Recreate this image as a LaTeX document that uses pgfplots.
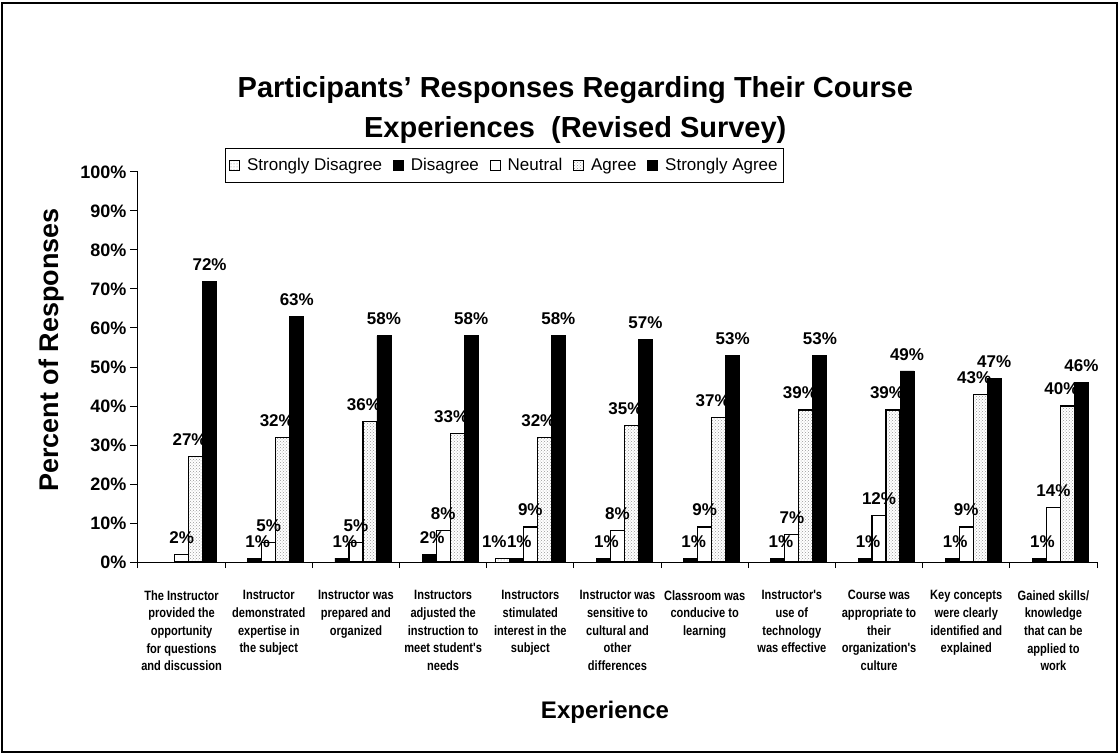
\documentclass[border=0pt]{standalone}
\usepackage{pgfplots}
\pgfplotsset{compat=1.18}
\usepackage{pgfplotstable}
\usetikzlibrary{patterns}
\usepackage{fontspec}
\setmainfont{Liberation Sans}
\newfontfamily\narrowfont[FakeStretch=0.82]{Liberation Sans}

\pgfplotstableread{
x SD D N A SA
0 0 0 2 27 72
1 0 1 5 32 63
2 0 1 5 36 58
3 0 2 8 33 58
4 1 1 9 32 58
5 0 1 8 35 57
6 0 1 9 37 53
7 0 1 7 39 53
8 0 1 12 39 49
9 0 1 9 43 47
10 0 1 14 40 46
}\datatable

\pgfplotsset{
  /pgf/number format/assume math mode=true,
  sq/.style={legend image code/.code={\draw[##1,line width=0.7pt] (0pt,-5pt) rectangle (10pt,5pt);}},
}

\begin{document}
\begin{tikzpicture}[x=1pt,y=1pt]
\path[use as bounding box] (-138,-193) rectangle (981,562);
\draw[line width=1.2pt] (-136,-190) rectangle (979,559);
\begin{axis}[
  at={(0,0)}, anchor=south west,
  scale only axis, width=959pt, height=390pt,
  ymin=0, ymax=100, xmin=-0.5, xmax=10.5,
  ybar=0pt, bar width=14pt,
  axis x line*=bottom, axis y line*=left,
  axis line style={line width=1pt},
  tick align=outside,
  ytick={0,10,...,100},
  yticklabel={\pgfmathprintnumber{\tick}\%},
  yticklabel style={font=\bfseries\fontsize{18}{18}\selectfont},
  major tick length=8pt, minor tick length=6pt,
  tick style={line width=1pt, black},
  xtick={0,...,10},
  major x tick style={draw=none},
  minor xtick={-0.5,0.5,...,10.5},
  xticklabels={
    {The Instructor\\provided the\\opportunity\\for questions\\and discussion},
    {Instructor\\demonstrated\\expertise in\\the subject},
    {Instructor was\\prepared and\\organized},
    {Instructors\\adjusted the\\instruction to\\meet student's\\needs},
    {Instructors\\stimulated\\interest in the\\subject},
    {Instructor was\\sensitive to\\cultural and\\other\\differences},
    {Classroom was\\conducive to\\learning},
    {Instructor's\\use of\\technology\\was effective},
    {Course was\\appropriate to\\their\\organization's\\culture},
    {Key concepts\\were clearly\\identified and\\explained},
    {Gained skills/\\knowledge\\that can be\\applied to\\work}
  },
  xticklabel style={font=\narrowfont\bfseries\fontsize{13.5}{17.6}\selectfont, align=center, anchor=north, yshift=-17pt},
  xlabel={Experience},
  xlabel style={at={(axis description cs:0.487,0)}, anchor=center, yshift=-150pt, font=\bfseries\fontsize{24}{24}\selectfont},
  ylabel={Percent of Responses},
  ylabel style={at={(axis description cs:-0.0897,0.544)}, anchor=center, font=\bfseries\fontsize{27}{27}\selectfont},
  title={Participants' Responses Regarding Their Course\\Experiences\ \ (Revised Survey)},
  title style={at={(axis description cs:0.456,1.1435)}, anchor=center, align=center, font=\bfseries\fontsize{29}{40}\selectfont},
  legend style={at={(axis description cs:0.0907,1.0615)}, anchor=north west, legend columns=-1, draw=black, line width=0.8pt, font=\fontsize{17}{20}\selectfont, inner xsep=4pt, inner ysep=8pt, /tikz/every odd column/.append style={column sep=5pt}, /tikz/every even column/.append style={column sep=9pt}},
  restrict y to domain=0.5:100,
  nodes near coords={\pgfmathprintnumber{\pgfplotspointmeta}\%},
  every node near coord/.append style={font=\bfseries\fontsize{17}{17}\selectfont, black, yshift=7pt},
]
\addplot[sq, draw=black, line width=0.8pt, pattern=dots, pattern color=gray, every node near coord/.append style={xshift=-8pt}] table[x=x,y=SD]{\datatable};
\addplot[sq, draw=black, line width=0.8pt, fill=black, every node near coord/.append style={xshift=3pt}] table[x=x,y=D]{\datatable};
\addplot[sq, draw=black, line width=1.2pt, fill=white] table[x=x,y=N]{\datatable};
\addplot[sq, draw=black, line width=1.2pt, pattern=crosshatch dots, pattern color=gray!80, every node near coord/.append style={xshift=-6pt}] table[x=x,y=A]{\datatable};
\addplot[sq, draw=black, line width=0.8pt, fill=black] table[x=x,y=SA]{\datatable};
\legend{Strongly Disagree, Disagree, Neutral, Agree, Strongly Agree}
\end{axis}
\end{tikzpicture}
\end{document}
